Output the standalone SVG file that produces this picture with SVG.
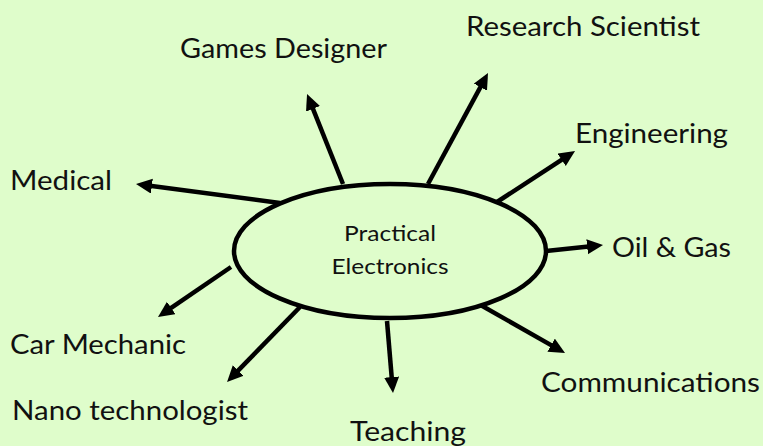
<svg xmlns="http://www.w3.org/2000/svg" width="763" height="446" viewBox="0 0 763 446">
<defs>
<style>
.lbl{font-family:Lato,"Open Sans","Liberation Sans",sans-serif;font-size:26px;fill:#111}
.ctr{font-family:Lato,"Open Sans","Liberation Sans",sans-serif;font-size:21px;fill:#111;text-anchor:middle}
.c{stroke:#000;stroke-width:4.5;fill:none;marker-end:url(#ah)}
</style>
<marker id="ah" markerUnits="userSpaceOnUse" markerWidth="18" markerHeight="16" refX="4" refY="7.5" orient="auto" viewBox="0 0 18 16">
<path d="M0,0 L16,7.5 L0,15 z" fill="#000"/>
</marker>
</defs>
<rect width="763" height="446" fill="#DFFDCB"/>
<g id="connectors">
<line class="c" x1="280" y1="203" x2="147.9" y2="185.6"/>
<line class="c" x1="343" y1="184" x2="311.5" y2="105.1"/>
<line class="c" x1="428" y1="184" x2="482.3" y2="83.6"/>
<line class="c" x1="497" y1="202" x2="565" y2="157.6"/>
<line class="c" x1="546" y1="251" x2="591.1" y2="246.3"/>
<line class="c" x1="231" y1="267" x2="167.9" y2="310.2"/>
<line class="c" x1="300" y1="307" x2="235.4" y2="373.4"/>
<line class="c" x1="387" y1="321" x2="392" y2="381"/>
<line class="c" x1="477" y1="303" x2="554.6" y2="347.1"/>
</g>
<g id="center">
<ellipse cx="390" cy="251" rx="156" ry="67" fill="#DFFDCB" stroke="#000" stroke-width="4.5"/>
<text class="ctr" x="390" y="241" textLength="92" lengthAdjust="spacingAndGlyphs">Practical</text>
<text class="ctr" x="390" y="274" textLength="117" lengthAdjust="spacingAndGlyphs">Electronics</text>
</g>
<g id="games"><text class="lbl" x="180" y="58" textLength="207" lengthAdjust="spacingAndGlyphs">Games Designer</text></g>
<g id="research"><text class="lbl" x="466" y="36" textLength="234" lengthAdjust="spacingAndGlyphs">Research Scientist</text></g>
<g id="engineering"><text class="lbl" x="575" y="143" textLength="153" lengthAdjust="spacingAndGlyphs">Engineering</text></g>
<g id="medical"><text class="lbl" x="10" y="190" textLength="102" lengthAdjust="spacingAndGlyphs">Medical</text></g>
<g id="oilgas"><text class="lbl" x="612" y="257" textLength="119" lengthAdjust="spacingAndGlyphs">Oil &amp; Gas</text></g>
<g id="car"><text class="lbl" x="10" y="354" textLength="176" lengthAdjust="spacingAndGlyphs">Car Mechanic</text></g>
<g id="nano"><text class="lbl" x="12" y="420" textLength="236" lengthAdjust="spacingAndGlyphs">Nano technologist</text></g>
<g id="teaching"><text class="lbl" x="350" y="441" textLength="116" lengthAdjust="spacingAndGlyphs">Teaching</text></g>
<g id="comms"><text class="lbl" x="541" y="392" textLength="219" lengthAdjust="spacingAndGlyphs">Communications</text></g>
</svg>
